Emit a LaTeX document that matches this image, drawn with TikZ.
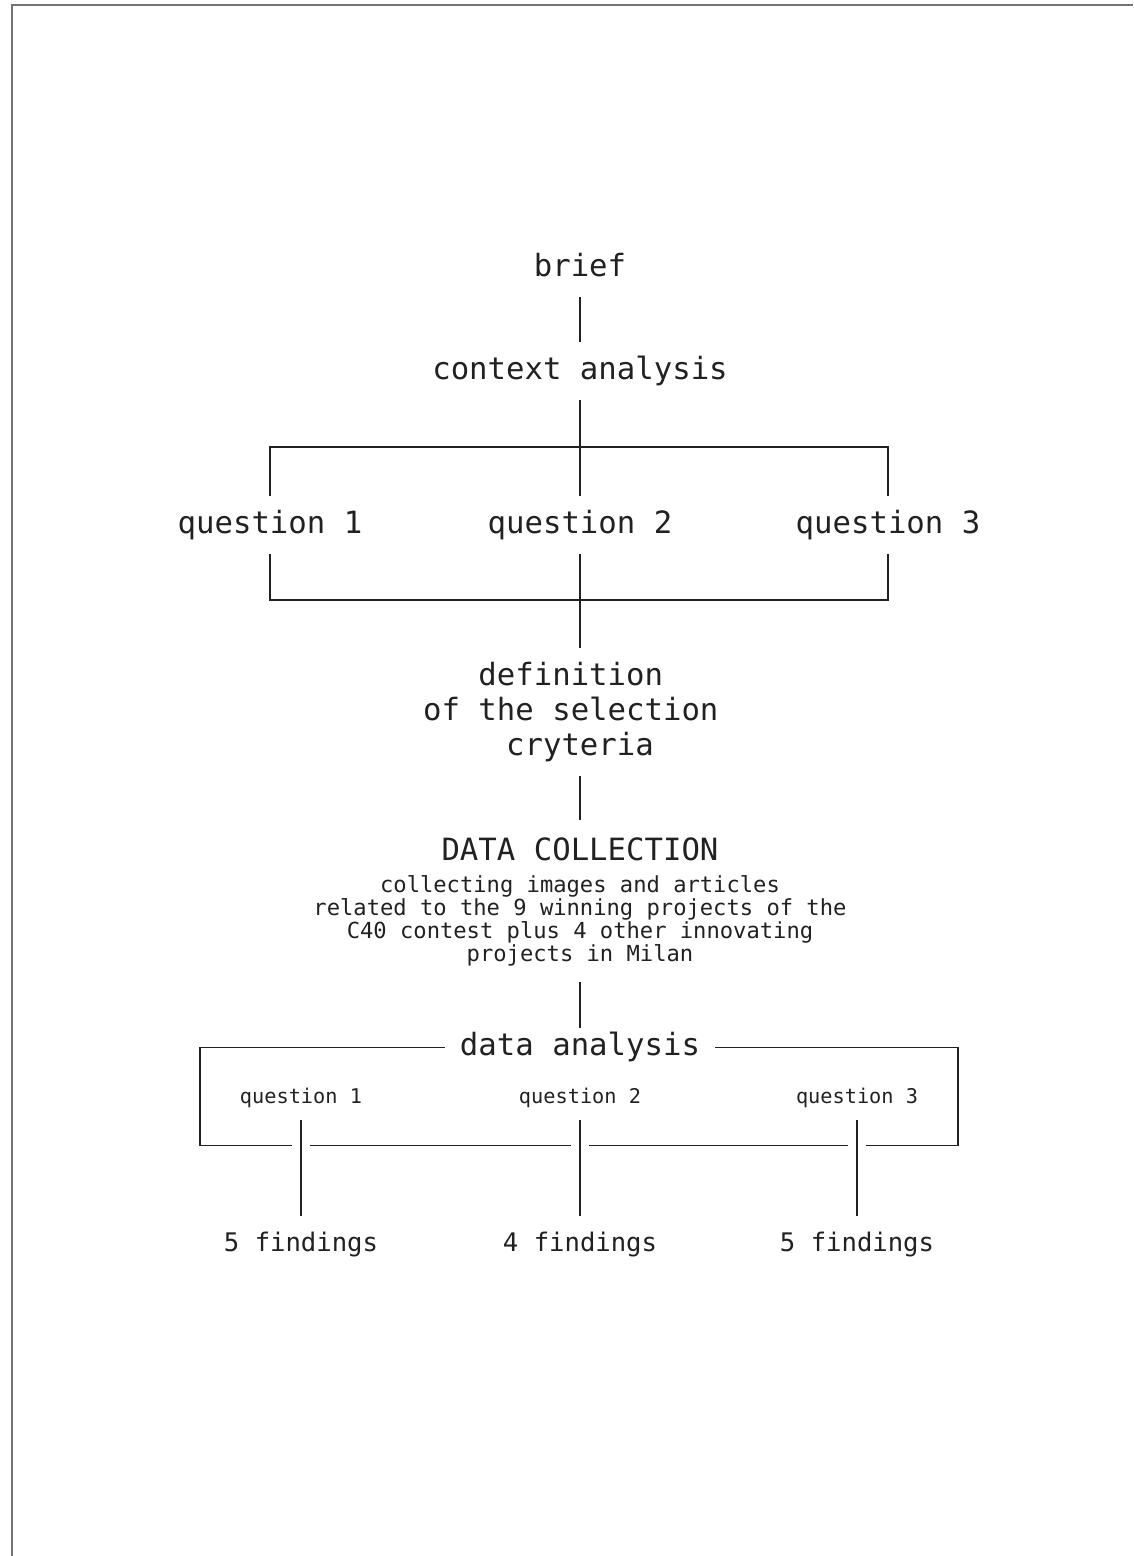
\documentclass[tikz,border=0pt]{standalone}
\usepackage{xcolor}
\usepackage{fontspec}
\usepackage{tikz}
\newfontfamily\diagmono{DejaVu Sans Mono}
\definecolor{ink}{rgb}{0.13,0.13,0.13}
\definecolor{pagerule}{rgb}{0.45,0.45,0.45}

\begin{document}
\begin{tikzpicture}[x=0.75pt,y=0.75pt,yscale=-1,xscale=1,
  bigfont/.style={font={\diagmono\fontsize{23}{26.25}\selectfont},text=ink},
  big/.style={bigfont,inner xsep=0pt,inner ysep=8.85pt,text height=18.4pt,text depth=6.9pt},
  block/.style={bigfont,inner sep=0pt,align=center},
  findings/.style={font={\diagmono\fontsize{19.2}{22}\selectfont},text=ink,inner xsep=0pt,inner ysep=10.9pt,text height=15.4pt,text depth=5.8pt},
  smallq/.style={font={\diagmono\fontsize{15.2}{17.5}\selectfont},text=ink,inner xsep=0pt,inner ysep=8.2pt,text height=12.2pt,text depth=4.6pt},
  note/.style={font={\diagmono\fontsize{16.6}{16}\selectfont},text=ink,inner sep=0pt,align=center},
  link/.style={draw=ink,line width=0.9pt}]
\useasboundingbox (0,0) rectangle (1133,1556);

%Page frame
\draw [pagerule,line width=1.5pt] (1133,4.5) -| (12,1556) ;

% Text Node
\draw (580,276) node [big,anchor=base] (brief) {brief};
% Text Node
\draw (580,379) node [big,anchor=base] (context) {context analysis};
% Text Node
\draw (270,533) node [big,anchor=base] (q1) {question 1};
% Text Node
\draw (580,533) node [big,anchor=base] (q2) {question 2};
% Text Node
\draw (888,533) node [big,anchor=base] (q3) {question 3};
% Text Node
\draw (580,712) node [block,minimum height=96pt] (criteria) {definition\hphantom{x}\\of the selection\hphantom{x}\\cryteria};
% Text Node
\draw (580,860) node [big,anchor=base,inner ysep=11.55pt] (collect) {DATA COLLECTION};
% Text Node
\draw (580,921) node [note,minimum height=91.5pt] (collectnote) {collecting images and articles\\related to the 9 winning projects of the\\C40 contest plus 4 other innovating\\projects in Milan};
% Text Node
\draw (580,1055) node [big,anchor=base,inner ysep=1.8pt,inner xsep=11.25pt] (analysis) {data analysis};
% Text Node
\draw (301,1103) node [smallq,anchor=base] (sq1) {question 1};
\draw (580,1103) node [smallq,anchor=base] (sq2) {question 2};
\draw (857,1103) node [smallq,anchor=base] (sq3) {question 3};
% Text Node
\draw (301,1251) node [findings,anchor=base] (f1) {5 findings};
\draw (580,1251) node [findings,anchor=base] (f2) {4 findings};
\draw (857,1251) node [findings,anchor=base] (f3) {5 findings};

\coordinate (topbar) at (580,447);
\coordinate (botbar) at (580,600);
\coordinate (frameL) at (200,1145.5);
\coordinate (frameR) at (958,1145.5);

%Straight Lines
\draw [link] (brief) -- (context);
\draw [link] (context) -- (q2);
\draw [link] (q1.north) |- (topbar) -| (q3.north);
\draw [link] (q1.south) |- (botbar) -| (q3.south);
\draw [link] (q2) -- (criteria);
\draw [link] (criteria) -- (collect);
\draw [link] (collectnote) -- (analysis);
\foreach \i in {1,2,3}
  \draw [link] (sq\i) -- (f\i);

%Bracket round the data analysis
\draw [link,shorten >=6.75pt] (analysis.west) -| (frameL) -- (frameL -| sq1);
\draw [link,shorten >=6.75pt] (analysis.east) -| (frameR) -- (frameR -| sq3);
\foreach \a/\b in {sq1/sq2,sq2/sq3}
  \draw [link,shorten <=6.75pt,shorten >=6.75pt] (frameL -| \a) -- (frameL -| \b);

\end{tikzpicture}
\end{document}
